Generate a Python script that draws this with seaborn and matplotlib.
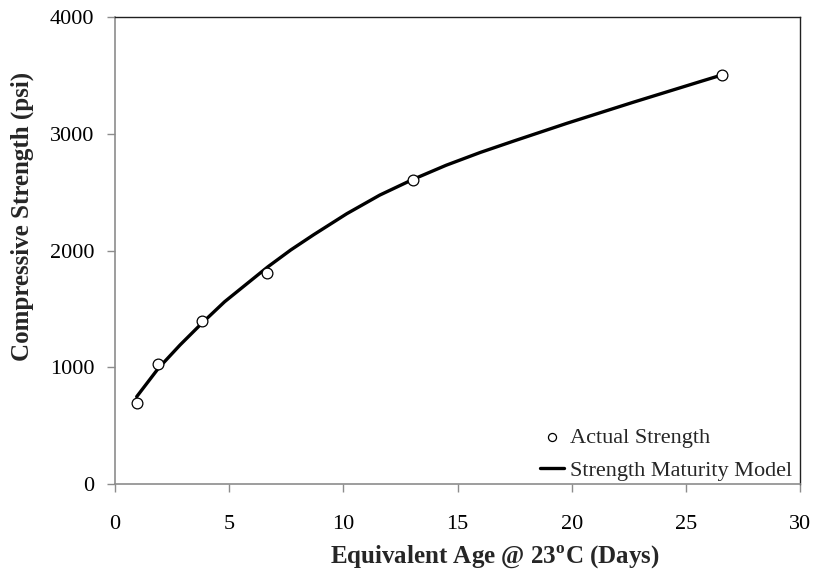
import matplotlib
matplotlib.use("Agg")
import matplotlib.pyplot as plt
import seaborn as sns
import pandas as pd

# Measured cylinder strengths
age_days = [0.95, 1.90, 3.80, 6.64, 13.06, 26.57]
strength_psi = [691, 1025, 1396, 1810, 2604, 3503]

# Strength-maturity model curve
model_age = [0.95, 1.9, 2.85, 3.8, 4.8, 5.8, 6.7, 7.7, 8.7, 10.15, 11.6,
             13.06, 14.5, 16.0, 17.5, 19.8, 22.7, 25.6, 26.57]
model_strength = [748, 991, 1191, 1376, 1561, 1719, 1861, 2005, 2135, 2315,
                  2475, 2610, 2730, 2840, 2940, 3090, 3270, 3445, 3503]

x_ticks = [0, 5, 10, 15, 20, 25, 30]
y_ticks = [0, 1000, 2000, 3000, 4000]

sns.set_theme(style="white")
plt.rcParams["font.family"] = ["Liberation Serif", "DejaVu Serif"]
plt.rcParams["mathtext.fontset"] = "custom"
plt.rcParams["mathtext.rm"] = "Liberation Serif"
plt.rcParams["mathtext.bf"] = "Liberation Serif:bold"

obs = pd.DataFrame({"age": age_days, "strength": strength_psi})
mod = pd.DataFrame({"age": model_age, "strength": model_strength})

fig = plt.figure(figsize=(8.15, 5.75), dpi=100)
ax = fig.add_axes([115 / 815, 1 - 484 / 575, 685 / 815, 467 / 575])

sns.lineplot(data=mod, x="age", y="strength", ax=ax, color="black",
             linewidth=2.4, label="Strength Maturity Model", sort=False)
ax.lines[-1].set_solid_joinstyle("round")
sns.scatterplot(data=obs, x="age", y="strength", ax=ax, marker="o",
                facecolor="white", edgecolor="black", linewidth=0.9, s=60,
                label="Actual Strength", zorder=3)

ax.set_xlim(0, 30)
ax.set_ylim(0, 4000)
ax.set_xticks(x_ticks)
ax.set_yticks(y_ticks)

grey = "#8c8c8c"
for side in ("left", "bottom"):
    ax.spines[side].set_color(grey)
    ax.spines[side].set_linewidth(1.2)
for side in ("top", "right"):
    ax.spines[side].set_color("#202020")
    ax.spines[side].set_linewidth(1.0)

ax.tick_params(axis="both", which="major", direction="out", length=6,
               width=1.0, color=grey, labelsize=16, labelcolor="black",
               bottom=True, left=True)
ax.tick_params(axis="x", pad=16)
ax.tick_params(axis="y", pad=9)

ax.set_xlabel(r"Equivalent Age @ 23$^{\mathbf{o}}$C (Days)", fontsize=18,
              fontweight="bold")
ax.set_ylabel("Compressive Strength (psi)", fontsize=18, fontweight="bold")
ax.xaxis.set_label_coords(0.555, -0.128)
ax.yaxis.set_label_coords(-0.118, 0.574)

handles, labels = ax.get_legend_handles_labels()
order = [labels.index("Actual Strength"), labels.index("Strength Maturity Model")]
leg = ax.legend([handles[i] for i in order], [labels[i] for i in order],
                loc="lower right", bbox_to_anchor=(0.993, 0.0),
                frameon=False, fontsize=16,
                handlelength=1.1, handletextpad=0.25, borderaxespad=0.05,
                borderpad=0.1, labelspacing=0.55, markerscale=0.75)

fig.savefig("out.png", dpi=100)
